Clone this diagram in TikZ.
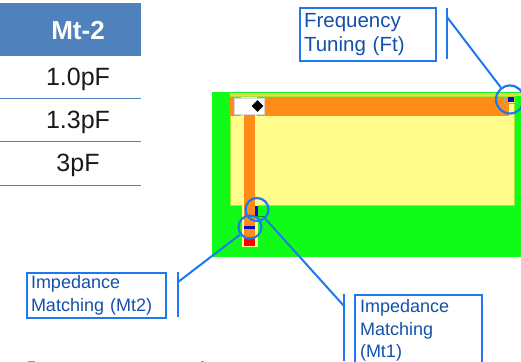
\documentclass[tikz,border=0pt]{standalone}
\usepackage{fontspec}
\setmainfont{Liberation Sans}
\usetikzlibrary{positioning,shapes.geometric}
\definecolor{hdrblue}{RGB}{79,129,189}
\definecolor{callblue}{RGB}{30,120,240}
\definecolor{txtblue}{RGB}{20,80,170}
\definecolor{boardgreen}{RGB}{16,252,24}
\definecolor{padyellow}{RGB}{255,252,140}
\definecolor{stripyellow}{RGB}{228,222,70}
\definecolor{traceorange}{RGB}{255,140,22}
\definecolor{tunenavy}{RGB}{10,10,190}

\begin{document}
\begin{tikzpicture}[
        x=1pt,y=-1pt,
        cellval/.style = {font=\fontsize{25}{28}\selectfont, text=black!90},
        rowline/.style = {draw=hdrblue, line width=1.7pt},
        callbox/.style = {
                draw=callblue,
                line width=2pt,
                text=txtblue,
                anchor=north west,
                align=left,
                inner xsep=4pt,
                inner ysep=0pt
            },
        callline/.style = {draw=callblue, line width=2pt},
        ring/.style = {circle, draw=callblue, line width=2.2pt, minimum size=#1, inner sep=0pt}
    ]
    \path[use as bounding box, clip] (0,0) rectangle (521,361);

    % table column
    \node[fill=hdrblue, minimum width=141pt, minimum height=53pt, inner sep=0pt, anchor=north west] (hdr) at (0,3) {};
    \node[font=\fontsize{26}{28}\selectfont\bfseries, text=white] (mt) at (78,31) {Mt-2};
    \node[cellval] (vala) at (78,79) {1.0pF};
    \node[cellval] (valb) at (78,122) {1.3pF};
    \node[cellval] (valc) at (78,165) {3pF};
    \draw[rowline] (0,98.5) -- (141,98.5);
    \draw[rowline] (0,141.5) -- (141,141.5);
    \draw[rowline] (0,185.5) -- (141,185.5);

    % board
    \fill[boardgreen] (212,92) rectangle (521,257);
    \fill[stripyellow] (230,92.5) rectangle (521,96);
    \filldraw[fill=padyellow, draw=stripyellow!70!green, line width=0.5pt] (230,96) rectangle (514,205);
    \fill[padyellow] (242,200) rectangle (258,246.5);
    \fill[traceorange] (230,97) rectangle (241,116);
    \fill[traceorange] (257,97) rectangle (509,116);
    \fill[traceorange] (244,114) rectangle (255,238);
    \fill[red] (244,238) rectangle (255,246);
    \draw[black!40!green, line width=0.4pt] (246,216.5) -- (265,216.5);
    \fill[tunenavy] (255,206) rectangle (258,216);
    \fill[tunenavy] (244,226) rectangle (255,229);
    \draw[black!35, line width=0.5pt] (504,97) rectangle (517,103);
    \fill[tunenavy] (508,97) rectangle (514,102);

    % port
    \node[fill=white, draw=black!15, minimum width=30pt, minimum height=16pt, inner sep=0pt, anchor=north west] (port) at (234,98) {};
    \node[diamond, fill=black, minimum size=12pt, inner sep=0pt] (portmark) at (257.5,106) {};

    % rings
    \node[ring=23pt] (ringa) at (257,209.5) {};
    \node[ring=23pt] (ringb) at (250,227) {};
    \node[ring=28pt] (ringc) at (510,99.5) {};

    % callouts
    \node[callbox, font=\fontsize{20.5}{24.5}\selectfont, text width=128pt, minimum height=53pt] (tune) at (299,7) {Frequency\\Tuning (Ft)};
    \node[callbox, font=\fontsize{18}{23}\selectfont, text width=131pt, minimum height=45pt] (mtb) at (26,272) {Impedance\\Matching (Mt2)};
    \node[callbox, font=\fontsize{18}{22.5}\selectfont, text width=117pt, inner xsep=5pt, minimum height=71pt] (mta) at (354,294) {Impedance\\Matching\\(Mt1)};

    \coordinate (tunetop) at (447,8);
    \coordinate (tunejoin) at (447,17);
    \coordinate (tunelow) at (447,59);
    \coordinate (mtbtop) at (178,272);
    \coordinate (mtbjoin) at (178,282);
    \coordinate (mtblow) at (178,317);
    \coordinate (mtatop) at (344,294);
    \coordinate (mtajoin) at (344,306);
    \coordinate (mtalow) at (344,361);

    \draw[callline] (tunetop) -- (tunelow);
    \draw[callline] (mtbtop) -- (mtblow);
    \draw[callline] (mtatop) -- (mtalow);
    \draw[callline] (ringc) -- (tunejoin);
    \draw[callline] (ringb) -- (mtbjoin);
    \draw[callline] (ringa) -- (mtajoin);

    % cut off at the lower edge
    \draw[callblue!70, line width=1pt] (28,361) -- (35,361);
    \draw[callblue!70, line width=1pt] (201,361) -- (203.5,361);
\end{tikzpicture}
\end{document}
